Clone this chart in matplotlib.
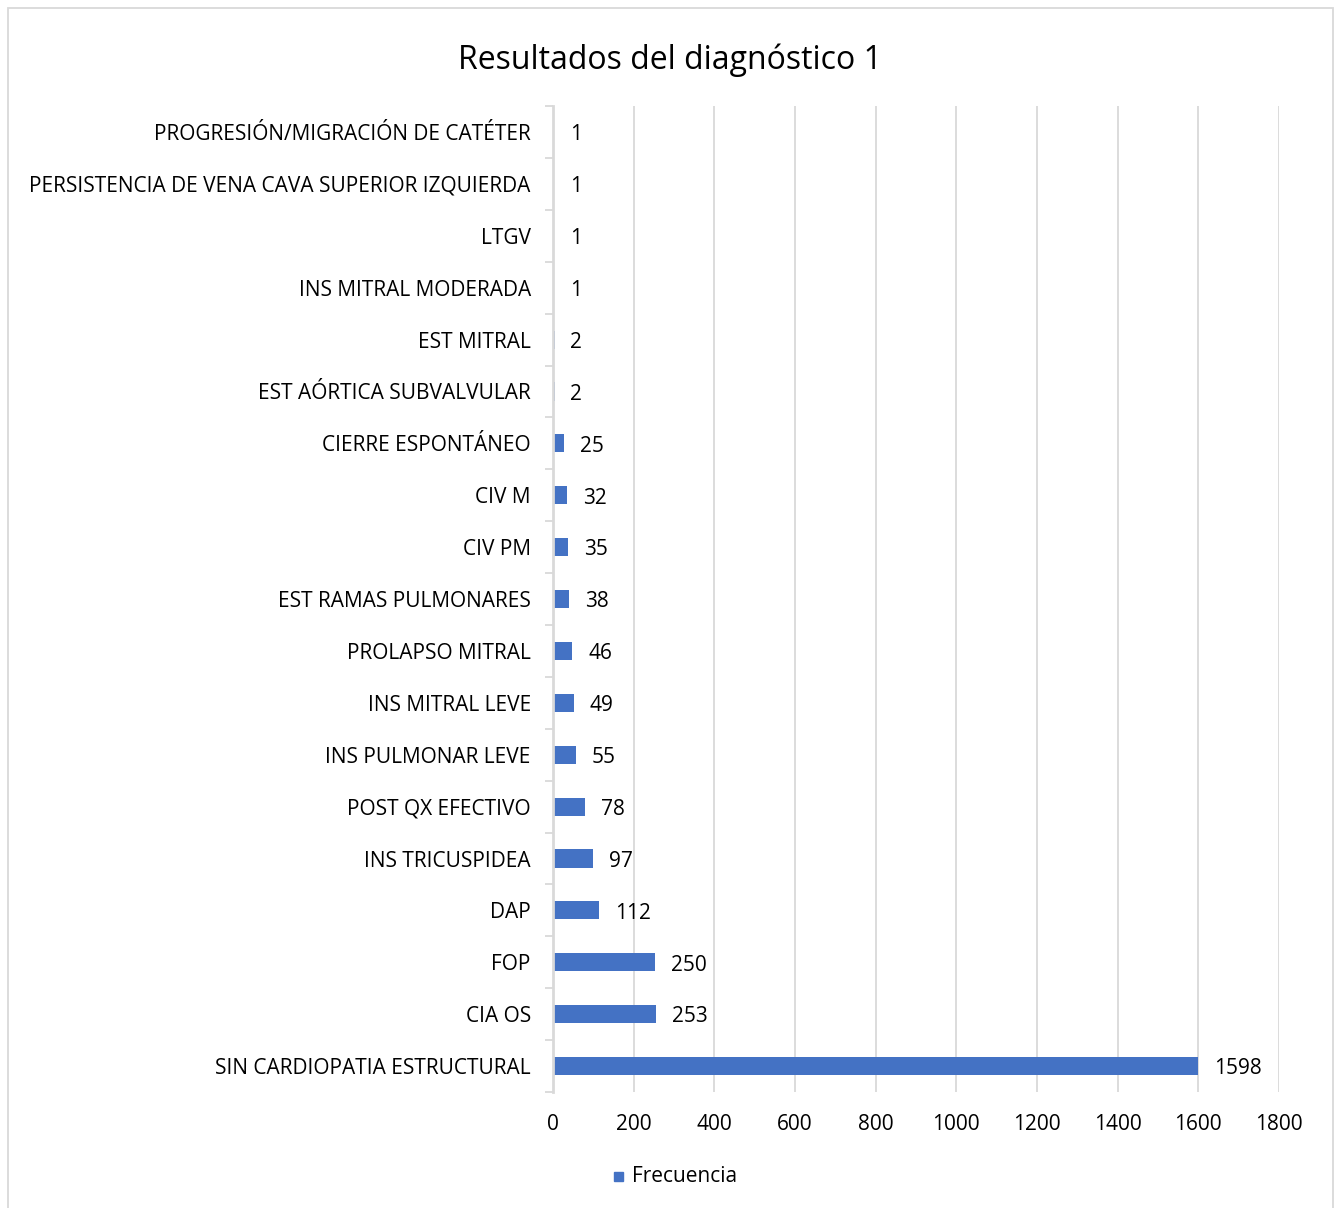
import matplotlib.pyplot as plt
from matplotlib.patches import Rectangle

# datos (de abajo hacia arriba)
categorias = ["SIN CARDIOPATIA ESTRUCTURAL", "CIA OS", "FOP", "DAP", "INS TRICUSPIDEA",
              "POST QX EFECTIVO", "INS PULMONAR LEVE", "INS MITRAL LEVE", "PROLAPSO MITRAL",
              "EST RAMAS PULMONARES", "CIV PM", "CIV M", "CIERRE ESPONTÁNEO",
              "EST AÓRTICA SUBVALVULAR", "EST MITRAL", "INS MITRAL MODERADA", "LTGV",
              "PERSISTENCIA DE VENA CAVA SUPERIOR IZQUIERDA", "PROGRESIÓN/MIGRACIÓN DE CATÉTER"]
frecuencia = [1598, 253, 250, 112, 97, 78, 55, 49, 46, 38, 35, 32, 25, 2, 2, 1, 1, 1, 1]
xticks = [0, 200, 400, 600, 800, 1000, 1200, 1400, 1600, 1800]

plt.rcParams['font.family'] = ['Open Sans', 'DejaVu Sans']
color_barra = "#4472C4"
gris = "#d9d9d9"
fs = 15

fig = plt.figure(figsize=(13.4, 12.08), dpi=100)
ax = fig.add_axes([0.4127, 0.096, 0.5418, 0.8162])

y = list(range(len(categorias)))
ax.barh(y, frecuencia, height=0.35, left=2, color=color_barra, zorder=2)
for yi, v in zip(y, frecuencia):
    ax.annotate(str(v), (v, yi), xytext=(12, -2), textcoords="offset points",
                va="center", ha="left", fontsize=fs, color="#000000")

ax.set_xlim(0, 1800)
ax.set_ylim(-0.5, len(categorias) - 0.5)
ax.set_xticks(xticks)
ax.set_xticklabels([str(t) for t in xticks], fontsize=fs)
ax.tick_params(axis="x", length=0, pad=16)
ax.grid(axis="x", color=gris, linewidth=1.3, zorder=0)

ax.set_yticks(y)
ax.set_yticklabels(categorias, fontsize=fs)
ax.tick_params(axis="y", which="major", length=0, pad=16)
ax.set_yticks([i - 0.5 for i in range(len(categorias) + 1)], minor=True)
ax.tick_params(axis="y", which="minor", length=6, color=gris, width=1.3)

for s in ["top", "right", "bottom"]:
    ax.spines[s].set_visible(False)
ax.spines["left"].set_color(gris)
ax.spines["left"].set_linewidth(2)
ax.spines["left"].set_zorder(3)

fig.text(0.5, 0.950, "Resultados del diagnóstico 1", ha="center", va="center", fontsize=23)

# leyenda
fig.patches.append(Rectangle((614 / 1340, 1 - 1181 / 1208), 9 / 1340, 9 / 1208,
                             transform=fig.transFigure, color=color_barra))
fig.text(632 / 1340, 1 - 1176 / 1208, "Frecuencia", ha="left", va="center", fontsize=fs)

# borde
fig.patches.append(Rectangle((8 / 1340, -0.01), 1325 / 1340, 1 - 8 / 1208 + 0.01,
                             transform=fig.transFigure, fill=False, edgecolor=gris, linewidth=1.3))

plt.savefig("out.png", dpi=100)
